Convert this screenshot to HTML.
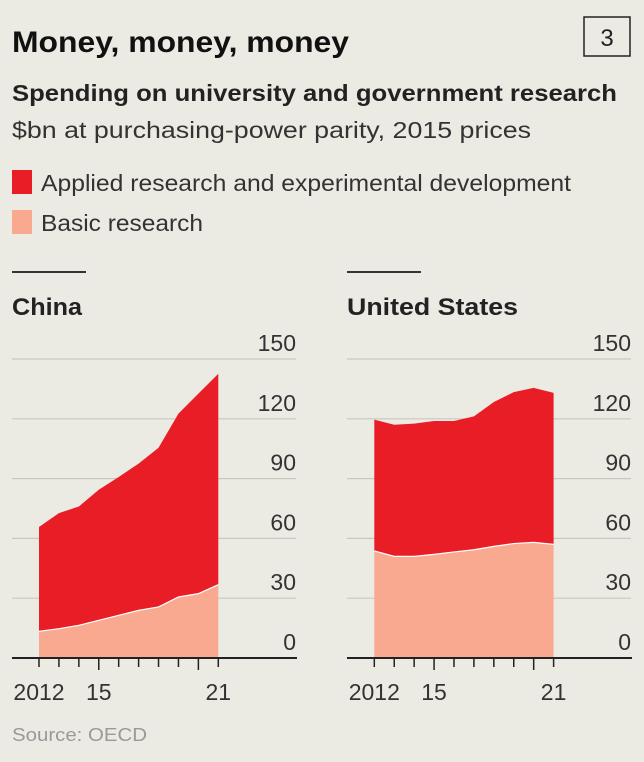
<!DOCTYPE html>
<html><head><meta charset="utf-8"><style>
html,body{margin:0;padding:0;background:#ecebe3;}
svg{display:block;font-family:"Liberation Sans",sans-serif;}
</style></head><body>
<svg id="chart" width="644" height="762" viewBox="0 0 644 762" xmlns="http://www.w3.org/2000/svg">
<rect x="0" y="0" width="644" height="762" fill="#ecebe3"/>
<text x="12" y="52" font-size="30" font-weight="bold" fill="#111" textLength="337" lengthAdjust="spacingAndGlyphs">Money, money, money</text>
<rect x="584" y="17" width="46" height="39" fill="none" stroke="#222" stroke-width="1.5"/>
<text x="607" y="46" font-size="24" text-anchor="middle" fill="#222">3</text>
<text x="12" y="101" font-size="23" font-weight="bold" fill="#222" textLength="605" lengthAdjust="spacingAndGlyphs">Spending on university and government research</text>
<text x="12" y="138" font-size="23" fill="#333" textLength="519" lengthAdjust="spacingAndGlyphs">$bn at purchasing-power parity, 2015 prices</text>
<rect x="12" y="170" width="20" height="24" fill="#e91d25"/>
<text x="41" y="191" font-size="23" fill="#333" textLength="530" lengthAdjust="spacingAndGlyphs">Applied research and experimental development</text>
<rect x="12" y="210" width="20" height="24" fill="#f8a98f"/>
<text x="41" y="231" font-size="23" fill="#333" textLength="162" lengthAdjust="spacingAndGlyphs">Basic research</text>
<line x1="12" y1="272" x2="86" y2="272" stroke="#333" stroke-width="2"/>
<line x1="347" y1="272" x2="421" y2="272" stroke="#333" stroke-width="2"/>
<text x="12" y="315" font-size="24" font-weight="bold" fill="#222" textLength="70" lengthAdjust="spacingAndGlyphs">China</text>
<text x="347" y="315" font-size="24" font-weight="bold" fill="#222" textLength="171" lengthAdjust="spacingAndGlyphs">United States</text>
<text x="12" y="741" font-size="18" fill="#999" textLength="135" lengthAdjust="spacingAndGlyphs">Source: OECD</text>
<g id="panels"></g>
</svg>
<script>
const years = [2012,2013,2014,2015,2016,2017,2018,2019,2020,2021];
const chinaBasic = [13.4,14.7,16.4,18.9,21.4,23.9,25.6,30.6,32.3,36.8];
const chinaTotal = [65.7,72.7,76,84.4,90.8,97.5,105.5,122.6,132.6,142.6];
const usBasic = [53.7,51,51,52,53.2,54.3,56,57.4,58,57];
const usTotal = [119.6,117,117.6,118.9,118.9,121.2,128.4,133.4,135.5,133];
const yTicks = [0,30,60,90,120,150];
const xLabels = [{y:2012,t:"2012"},{y:2015,t:"15"},{y:2021,t:"21"}];

const NS = "http://www.w3.org/2000/svg";
const g = document.getElementById('panels');
function mk(tag, attrs, parent){
  const e = document.createElementNS(NS, tag);
  for (const k in attrs) e.setAttribute(k, attrs[k]);
  (parent||g).appendChild(e);
  return e;
}
function yScale(v){ return 658 - v*(299/150); }
function drawPanel(prefix, x0, gridL, gridR, basic, total){
  const xs = y => x0 + (y-2012)*(179.3/9);
  const pg = mk('g', {});
  
  
  yTicks.forEach(t=>{
    if (t>0){
      const l = mk('line',{x1:gridL,x2:gridR,y1:yScale(t),y2:yScale(t),stroke:'#c9c8c0','stroke-width':1.2},pg);
      
      
    }
    const tx = mk('text',{x:gridR,y:yScale(t)-8,'font-size':23,'text-anchor':'end',fill:'#333'},pg);
    tx.textContent = t;
    
    
  });
  let topPts = years.map((y,i)=>xs(y)+','+yScale(total[i]));
  let midPts = years.map((y,i)=>xs(y)+','+yScale(basic[i]));
  const ap = mk('polygon',{points: topPts.concat(midPts.slice().reverse()).join(' '), fill:'#e91d25'},pg);
  
  
  const bp = mk('polygon',{points: midPts.concat([xs(2021)+','+yScale(0), xs(2012)+','+yScale(0)]).join(' '), fill:'#f8a98f'},pg);
  
  
  const bl = mk('polyline',{points: midPts.join(' '), fill:'none', stroke:'#fff','stroke-width':1.2},pg);
  
  
  const ax = mk('line',{x1:gridL,x2:gridR+1,y1:658,y2:658,stroke:'#222','stroke-width':2},pg);
  
  
  years.forEach(y=>{
    const long = (y===2015||y===2020);
    const tk = mk('line',{x1:xs(y),x2:xs(y),y1:658,y2:long?670:667,stroke:'#222','stroke-width':1.5},pg);
    
    
  });
  xLabels.forEach(o=>{
    const anchor = o.y===2012 ? 'middle' : 'middle';
    const tx = mk('text',{x:xs(o.y), y:700,'font-size':23,'text-anchor':anchor,fill:'#333'},pg);
    tx.textContent = o.t;
    
    
  });
}
drawPanel('china', 39, 12, 296, chinaBasic, chinaTotal);
drawPanel('us', 374.3, 347, 631, usBasic, usTotal);
</script>
</body></html>
